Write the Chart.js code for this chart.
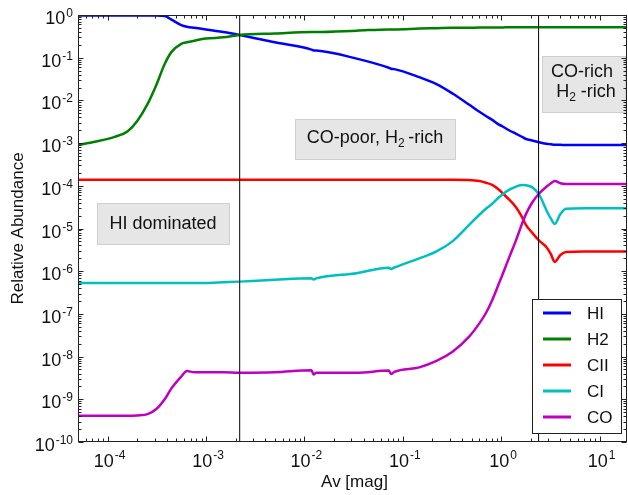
<!DOCTYPE html>
<html>
<head>
<meta charset="utf-8">
<script src="https://cdn.jsdelivr.net/npm/chart.js@4.4.1/dist/chart.umd.min.js"></script>
<style>
  body { margin: 0; background: #fff; }
  #wrap { width: 628px; height: 495px; position: relative; }
</style>
</head>
<body>
<div id="wrap"><canvas id="abundChart"></canvas></div>
<script>
// visual extinction grid [mag]
const av = [5e-5, 7.4e-5, 1.18e-4, 1.6e-4, 2e-4, 2.55e-4, 3.15e-4, 3.8e-4, 4.45e-4, 5.6e-4,
  6.4e-4, 7.6e-4, 1e-3, 1.5e-3, 2.2e-3, 5e-3, 1.18e-2, 1.24e-2, 1.32e-2, 3.4e-2,
  7.2e-2, 7.6e-2, 8.2e-2, 0.147, 0.22, 0.32, 0.47, 0.6, 0.7, 0.81,
  0.95, 1.02, 1.2, 1.42, 1.63, 1.79, 2.06, 2.43, 2.9, 3.2,
  3.5, 4.0, 4.57, 7, 10, 19];

const hiAbund = [0.97, 0.97, 0.97, 0.97, 0.97, 0.97, 0.97, 0.95, 0.78, 0.58,
  0.53, 0.50, 0.46, 0.40, 0.34, 0.23, 0.155, 0.148, 0.147, 0.095,
  0.058, 0.055, 0.054, 0.035, 0.024, 0.0145, 8e-3, 5.4e-3, 4.3e-3, 3.5e-3,
  2.7e-3, 2.5e-3, 2e-3, 1.65e-3, 1.4e-3, 1.25e-3, 1.15e-3, 1.05e-3, 9.6e-4, 9.4e-4,
  9.2e-4, 9.1e-4, 9e-4, 9e-4, 9e-4, 9e-4];

const h2Abund = [9e-4, 1.07e-3, 1.4e-3, 1.9e-3, 3.3e-3, 8.3e-3, 2.4e-2, 7.1e-2, 0.135, 0.21,
  0.23, 0.25, 0.28, 0.30, 0.34, 0.37, 0.40, 0.40, 0.40, 0.43,
  0.46, 0.46, 0.46, 0.48, 0.49, 0.50, 0.50, 0.51, 0.51, 0.51,
  0.51, 0.51, 0.52, 0.52, 0.52, 0.52, 0.52, 0.52, 0.52, 0.52,
  0.52, 0.52, 0.52, 0.52, 0.52, 0.52];

const ciiAbund = [1.38e-4, 1.38e-4, 1.38e-4, 1.38e-4, 1.38e-4, 1.38e-4, 1.38e-4, 1.38e-4, 1.38e-4, 1.38e-4,
  1.38e-4, 1.38e-4, 1.38e-4, 1.38e-4, 1.38e-4, 1.38e-4, 1.38e-4, 1.38e-4, 1.38e-4, 1.38e-4,
  1.38e-4, 1.38e-4, 1.38e-4, 1.38e-4, 1.38e-4, 1.38e-4, 1.36e-4, 1.29e-4, 1.18e-4, 1.05e-4,
  8.1e-5, 6.9e-5, 4.8e-5, 3.1e-5, 1.85e-5, 1.2e-5, 8e-6, 5.2e-6, 3.6e-6, 2.5e-6,
  1.65e-6, 2.4e-6, 2.8e-6, 2.9e-6, 2.9e-6, 2.9e-6];

const ciAbund = [5.3e-7, 5.3e-7, 5.3e-7, 5.3e-7, 5.3e-7, 5.3e-7, 5.3e-7, 5.3e-7, 5.3e-7, 5.3e-7,
  5.3e-7, 5.3e-7, 5.3e-7, 5.5e-7, 5.7e-7, 6.3e-7, 6.8e-7, 6.4e-7, 6.8e-7, 9e-7,
  1.2e-6, 1.13e-6, 1.22e-6, 2e-6, 2.9e-6, 5e-6, 1.2e-5, 2.1e-5, 2.9e-5, 3.8e-5,
  5.4e-5, 6.2e-5, 8e-5, 9.6e-5, 1.05e-4, 1.03e-4, 9.3e-5, 6.2e-5, 2.6e-5, 1.7e-5,
  1.28e-5, 2.2e-5, 2.9e-5, 3e-5, 3e-5, 3e-5];

const coAbund = [4.1e-10, 4.1e-10, 4.1e-10, 4.1e-10, 4.2e-10, 4.5e-10, 6e-10, 1.0e-9, 1.8e-9, 3.4e-9,
  4.6e-9, 4.3e-9, 4.3e-9, 4.3e-9, 4.2e-9, 4.3e-9, 4.8e-9, 3.8e-9, 4.2e-9, 4.2e-9,
  4.7e-9, 3.9e-9, 4.4e-9, 5.6e-9, 7.9e-9, 1.3e-8, 2.9e-8, 6e-8, 1.05e-7, 2.1e-7,
  5.2e-7, 7.8e-7, 2.05e-6, 5.4e-6, 1.3e-5, 2.2e-5, 4e-5, 6.6e-5, 9.6e-5, 1.15e-4,
  1.3e-4, 1.15e-4, 1.1e-4, 1.1e-4, 1.1e-4, 1.1e-4];

const speciesNames = ['HI', 'H2', 'CII', 'CI', 'CO'];
const speciesValues = [hiAbund, h2Abund, ciiAbund, ciAbund, coAbund];
const speciesColors = ['#0000ff', '#008000', '#ff0000', '#00bfbf', '#bf00bf'];

// Av where the regime changes
const regimeBounds = [2.2e-3, 2.4];

const xDecades = [-4, -3, -2, -1, 0, 1];
const yDecades = [0, -1, -2, -3, -4, -5, -6, -7, -8, -9, -10];

const FONT = "'Liberation Sans', Arial, sans-serif";

const datasets = speciesNames.map((name, i) => ({
  label: name,
  data: av.map((a, j) => ({ x: a, y: speciesValues[i][j] })),
  borderColor: speciesColors[i],
  borderWidth: 2.5,
  pointRadius: 0,
  cubicInterpolationMode: 'monotone',
  order: speciesNames.length - i
}));

regimeBounds.forEach(b => {
  datasets.push({
    data: [{ x: b, y: 1e-10 }, { x: b, y: 1 }],
    borderColor: '#000',
    borderWidth: 1,
    pointRadius: 0,
    order: 0
  });
});

function drawPow(ctx, exp, x, baseY, supY, align) {
  const base = '10', sup = String(exp);
  ctx.font = '18px ' + FONT;
  const wb = ctx.measureText(base).width;
  ctx.font = '12px ' + FONT;
  const ws = ctx.measureText(sup).width;
  const x0 = align === 'right' ? x - wb - ws - 1 : x - (wb + ws + 1) / 2;
  ctx.textAlign = 'left';
  ctx.textBaseline = 'alphabetic';
  ctx.font = '18px ' + FONT;
  ctx.fillText(base, x0, baseY);
  ctx.font = '12px ' + FONT;
  ctx.fillText(sup, x0 + wb + 1, supY);
}

// text with optional subscript pieces, centred on cx
function drawRuns(ctx, runs, cx, baseY) {
  let total = 0;
  const widths = runs.map(([t, sub]) => {
    ctx.font = (sub ? '12px ' : '18px ') + FONT;
    const w = ctx.measureText(t).width;
    total += w;
    return w;
  });
  let x = cx - total / 2;
  ctx.textAlign = 'left';
  ctx.textBaseline = 'alphabetic';
  runs.forEach(([t, sub], i) => {
    ctx.font = (sub ? '12px ' : '18px ') + FONT;
    ctx.fillText(t, x, sub ? baseY + 4 : baseY);
    x += widths[i];
  });
}

const notes = [
  { rect: [97, 203, 133, 42], lines: [{ cx: 163, y: 229, runs: [['HI dominated']] }] },
  { rect: [295, 119, 161, 41], lines: [{ cx: 375, y: 143, runs: [['CO-poor, H'], ['2', true], ['\u2009-rich']] }] },
  { rect: [542, 56, 84, 57], lines: [
    { cx: 582, y: 77, runs: [['CO-rich']] },
    { cx: 586, y: 97, runs: [['H'], ['2', true], [' -rich']] }
  ] }
];

const decorations = {
  id: 'decorations',
  afterDatasetsDraw(chart) {
    const { ctx } = chart;
    ctx.save();
    // region labels
    notes.forEach(n => {
      const [x, y, w, h] = n.rect;
      ctx.fillStyle = '#e6e6e6';
      ctx.fillRect(x, y, w, h);
      ctx.strokeStyle = '#cfcfcf';
      ctx.lineWidth = 1;
      ctx.strokeRect(x + 0.5, y + 0.5, w - 1, h - 1);
      ctx.fillStyle = '#111';
      n.lines.forEach(l => drawRuns(ctx, l.runs, l.cx, l.y));
    });
    // legend
    ctx.fillStyle = '#fff';
    ctx.fillRect(532, 299, 89, 134);
    ctx.strokeStyle = '#222';
    ctx.strokeRect(532.5, 299.5, 89, 134);
    speciesNames.forEach((name, i) => {
      const ry = 313 + i * 26;
      ctx.strokeStyle = speciesColors[i];
      ctx.lineWidth = 3;
      ctx.beginPath();
      ctx.moveTo(543, ry);
      ctx.lineTo(571, ry);
      ctx.stroke();
      ctx.fillStyle = '#111';
      ctx.font = '17px ' + FONT;
      ctx.textAlign = 'left';
      ctx.textBaseline = 'middle';
      ctx.fillText(name, 587, ry + 1);
    });
    ctx.restore();
  },
  afterDraw(chart) {
    const { ctx, chartArea: a, scales: { x, y } } = chart;
    ctx.save();
    ctx.strokeStyle = '#222';
    ctx.lineWidth = 1;
    const L = Math.round(a.left) + 0.5, R = Math.round(a.right) - 0.5;
    const T = Math.round(a.top) + 0.5, B = Math.round(a.bottom) - 0.5;
    ctx.strokeRect(L, T, R - L, B - T);

    ctx.beginPath();
    for (let e = -5; e <= 1; e++) {
      for (let k = 1; k <= 9; k++) {
        const v = k * Math.pow(10, e);
        if (v < x.min || v > x.max) continue;
        const px = Math.round(x.getPixelForValue(v)) + 0.5;
        const len = k === 1 ? 5 : 3;
        ctx.moveTo(px, B); ctx.lineTo(px, B - len);
        ctx.moveTo(px, T); ctx.lineTo(px, T + len);
      }
    }
    for (let e = -10; e <= 0; e++) {
      for (let k = 1; k <= 9; k++) {
        const v = k * Math.pow(10, e);
        if (v < y.min || v > y.max) continue;
        const py = Math.round(y.getPixelForValue(v)) + 0.5;
        const len = k === 1 ? 5 : 3;
        ctx.moveTo(L, py); ctx.lineTo(L + len, py);
        ctx.moveTo(R, py); ctx.lineTo(R - len, py);
      }
    }
    ctx.stroke();

    ctx.fillStyle = '#111';
    xDecades.forEach(e => {
      const px = x.getPixelForValue(Math.pow(10, e));
      drawPow(ctx, e, px + 2, a.bottom + 25, a.bottom + 17, 'center');
    });
    yDecades.forEach(e => {
      const py = y.getPixelForValue(Math.pow(10, e));
      drawPow(ctx, e, a.left - 5, py + 9, py + 2, 'right');
    });

    // axis titles
    ctx.font = '17px ' + FONT;
    ctx.textAlign = 'center';
    ctx.textBaseline = 'alphabetic';
    ctx.fillText('Av [mag]', (a.left + a.right) / 2 + 2, 487);
    ctx.translate(23, (a.top + a.bottom) / 2);
    ctx.rotate(-Math.PI / 2);
    ctx.fillText('Relative Abundance', 0, 0);
    ctx.restore();
  }
};

new Chart(document.getElementById('abundChart'), {
  type: 'line',
  data: { datasets },
  options: {
    responsive: true,
    maintainAspectRatio: false,
    animation: false,
    layout: { padding: { top: 15, right: 1, left: 0, bottom: 0 } },
    plugins: { legend: { display: false }, tooltip: { enabled: false } },
    scales: {
      x: {
        type: 'logarithmic',
        min: 5e-5,
        max: 19,
        grid: { display: false },
        border: { display: false },
        ticks: { display: false },
        afterFit: s => { s.height = 53; }
      },
      y: {
        type: 'logarithmic',
        min: 1e-10,
        max: 1,
        grid: { display: false },
        border: { display: false },
        ticks: { display: false },
        afterFit: s => { s.width = 78; }
      }
    }
  },
  plugins: [decorations]
});
</script>
</body>
</html>
